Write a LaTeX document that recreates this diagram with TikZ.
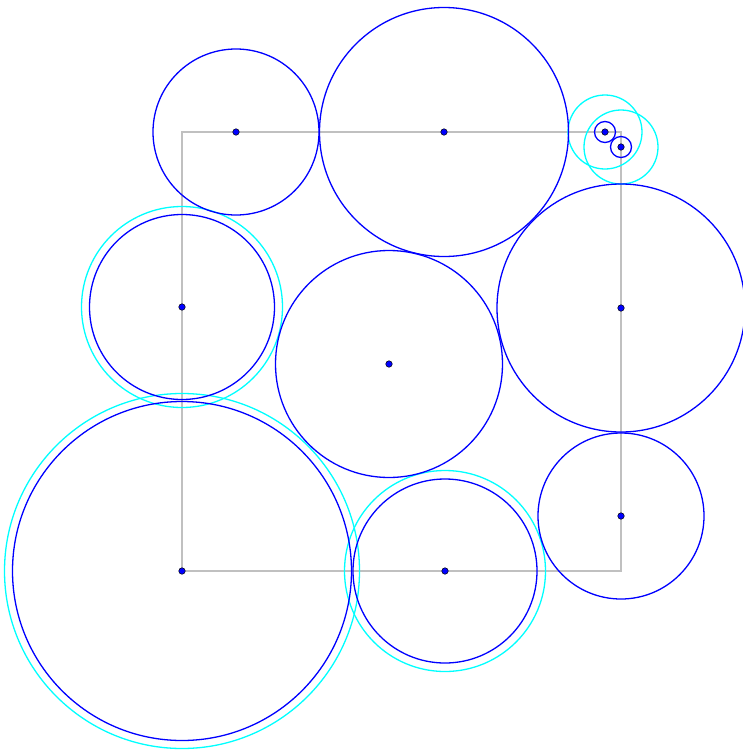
\documentclass[tikz,border=0pt]{standalone}
\usetikzlibrary{positioning}
\definecolor{colring}{HTML}{0000FF}
\definecolor{colhalo}{HTML}{00FFFF}
\definecolor{colframe}{HTML}{C0C0C0}
\tikzset{hub/.style={circle,draw=black,fill=colring,inner sep=0pt,minimum size=6.5pt,line width=0.5pt}}

\begin{document}
\begin{tikzpicture}[x=1pt,y=-1pt]
  \useasboundingbox (0,0) rectangle (742,750);
  \coordinate (tl) at (182,132);
  \coordinate (tr) at (621,132);
  \coordinate (br) at (621,571);
  \coordinate (bl) at (182,571);
  \draw[colframe,line width=1.5pt] (tl) -- (tr) -- (br) -- (bl) -- cycle;
  \foreach \n/\x/\y in {a/236/132,b/444/132,c/605/132,d/621/147,e/182/307,f/389/364,g/621/308,h/621/516,k/182/571,m/445/571}
    \coordinate (\n) at (\x,\y);
  \foreach \n/\r in {c/37,d/37,e/100.5,k/177.5,m/100.5}
    \draw[colhalo,line width=1.3pt] (\n) circle (\r pt);
  \foreach \n/\r in {a/83,b/124.5,c/10.5,d/10.5,e/92.5,f/113.5,g/124,h/83,k/169.5,m/92}
    \draw[colring,line width=1.3pt] (\n) circle (\r pt);
  \foreach \n in {a,b,c,d,e,f,g,h,k,m} \node[hub] at (\n) {};
\end{tikzpicture}
\end{document}
